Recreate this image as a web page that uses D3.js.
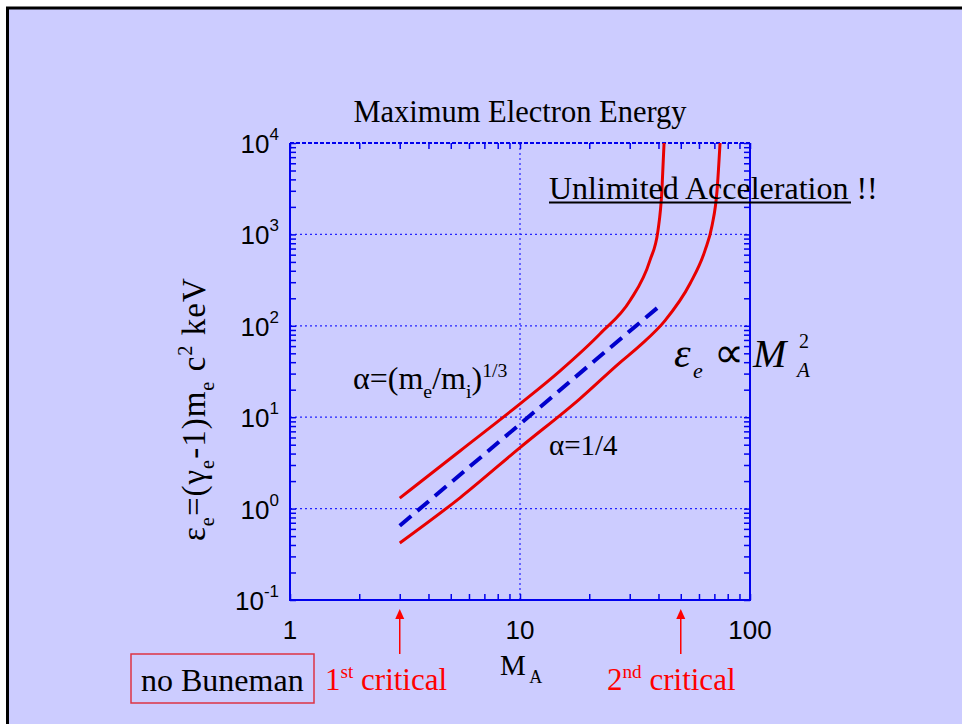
<!DOCTYPE html>
<html><head><meta charset="utf-8">
<script src="https://cdn.jsdelivr.net/npm/d3@7"></script>
<style>
html,body{margin:0;padding:0;background:#fff;}
svg{display:block;}
</style></head>
<body>
<script>
// ---- data ----
const machUpper = [3, 5.5, 10, 14.9, 22.3, 30.1, 36.7, 39.8, 41.4, 42.3];
const epsUpper  = [1.3, 4.3, 14, 32, 82, 189, 517, 1100, 3020, 10000];
const machLower = [3, 5.5, 10, 18.2, 27.2, 33.2, 42.7, 54.9, 63.7, 68.4, 71.9, 74.1];
const epsLower  = [0.42, 1.32, 4.65, 15.9, 39.6, 60.7, 114, 290, 665, 1250, 3020, 10000];
const machDash  = [3, 10, 20, 40.6];
const epsDash   = [0.65, 8.4, 37, 166];
const xTickValues = [1, 10, 100];
const yTickExponents = [-1, 0, 1, 2, 3, 4];
const criticalMach = [3, 50];
const criticalLabels = [["1", "st", " critical"], ["2", "nd", " critical"]];

const W = 962, H = 724;
const svg = d3.select("body").append("svg").attr("width", W).attr("height", H);
const serif = "Liberation Serif";
const sans = "Liberation Sans";

// slide background
svg.append("rect").attr("x", 7.5).attr("y", 8).attr("width", W + 20).attr("height", H + 20)
  .attr("fill", "#ccccff").attr("stroke", "#000").attr("stroke-width", 3);

const L = 290, R = 750, T = 143, B = 600;
const x = d3.scaleLog().domain([1, 100]).range([L, R]);
const y = d3.scaleLog().domain([0.1, 10000]).range([B, T]);

const blue = "#0000ee";
// grid
const grid = svg.append("g").attr("stroke", "#2222ff").attr("stroke-width", 1.2).attr("stroke-dasharray", "2,3");
yTickExponents.slice(1, -1).forEach(e => {
  grid.append("line").attr("x1", L).attr("x2", R).attr("y1", y(Math.pow(10, e))).attr("y2", y(Math.pow(10, e)));
});
xTickValues.slice(1, -1).forEach(v => {
  grid.append("line").attr("x1", x(v)).attr("x2", x(v)).attr("y1", T).attr("y2", B);
});

// axes with inward ticks
function styleAxis(g) {
  g.selectAll("text").remove();
  g.select(".domain").remove();
  g.selectAll("line").attr("stroke", blue).attr("stroke-width", 1.5);
}
const yt = y.ticks(), xt = x.ticks();
svg.append("g").attr("transform", `translate(${L},0)`).call(d3.axisLeft(y).tickValues(yt).tickSize(-6)).call(styleAxis);
svg.append("g").attr("transform", `translate(${R},0)`).call(d3.axisRight(y).tickValues(yt).tickSize(-6)).call(styleAxis);
svg.append("g").attr("transform", `translate(0,${B})`).call(d3.axisBottom(x).tickValues(xt).tickSize(-6)).call(styleAxis);
svg.append("g").attr("transform", `translate(0,${T})`).call(d3.axisTop(x).tickValues(xt).tickSize(-6)).call(styleAxis);

// frame
svg.append("path").attr("d", `M${L},${T}V${B}H${R}V${T}`).attr("fill", "none").attr("stroke", blue).attr("stroke-width", 2);
svg.append("line").attr("x1", L).attr("x2", R).attr("y1", T).attr("y2", T)
  .attr("stroke", blue).attr("stroke-width", 2).attr("stroke-dasharray", "4,2");

// tick labels
yTickExponents.forEach(e => {
  const t = svg.append("text").attr("x", L - 11).attr("y", y(Math.pow(10, e)) + 10)
    .attr("text-anchor", "end").style("font-family", sans).attr("font-size", 26).attr("fill", "#000");
  t.append("tspan").text("10");
  t.append("tspan").attr("dy", -13).attr("font-size", 17).text(String(e));
});
xTickValues.forEach(v => {
  svg.append("text").attr("x", x(v)).attr("y", 639).attr("text-anchor", "middle")
    .style("font-family", sans).attr("font-size", 26).attr("fill", "#000").text(v);
});

// curves
svg.append("clipPath").attr("id", "clip").append("rect").attr("x", L).attr("y", T).attr("width", R - L).attr("height", B - T);
const plot = svg.append("g").attr("clip-path", "url(#clip)");
const line = d3.line().x(d => x(d[0])).y(d => y(d[1])).curve(d3.curveMonotoneX);
plot.append("path").attr("d", line(d3.zip(machUpper, epsUpper))).attr("fill", "none").attr("stroke", "#e80000").attr("stroke-width", 3);
plot.append("path").attr("d", line(d3.zip(machLower, epsLower))).attr("fill", "none").attr("stroke", "#e80000").attr("stroke-width", 3);
plot.append("path").attr("d", d3.line().x(d => x(d[0])).y(d => y(d[1]))(d3.zip(machDash, epsDash)))
  .attr("fill", "none").attr("stroke", "#0000cc").attr("stroke-width", 4).attr("stroke-dasharray", "15,8");

// title
svg.append("text").attr("x", 520).attr("y", 122).attr("text-anchor", "middle")
  .style("font-family", serif).attr("font-size", 30.5).attr("fill", "#000").text("Maximum Electron Energy");

// rich text helper: parts [text, kind] kind: n, sub, sup
function rich(g, xPos, yPos, size, parts, opts = {}) {
  const t = g.append("text").attr("x", xPos).attr("y", yPos).style("font-family", serif)
    .attr("font-size", size).attr("fill", opts.fill || "#000");
  if (opts.anchor) t.attr("text-anchor", opts.anchor);
  if (opts.italic) t.attr("font-style", "italic");
  if (opts.spacing) t.attr("letter-spacing", opts.spacing);
  let cur = 0;
  parts.forEach(([s, k]) => {
    let target = 0, fs = size;
    if (k === "sub") { target = size * 0.28; fs = size * 0.62; }
    if (k === "sup") { target = -size * 0.38; fs = size * 0.62; }
    t.append("tspan").attr("dy", target - cur).attr("font-size", fs).text(s);
    cur = target;
  });
  return t;
}

// y axis label
const yl = svg.append("g").attr("transform", "translate(205,541) rotate(-90)");
rich(yl, 0, 0, 33, [["ε", "n"], ["e", "sub"], ["=(γ", "n"], ["e", "sub"], ["-1)m", "n"], ["e", "sub"], ["\u00A0c", "n"], ["2", "sup"], ["\u00A0keV", "n"]], { spacing: 1 });

// x axis label
rich(svg, 500, 675, 29, [["M", "n"], [" A", "sub"]]);

// Unlimited acceleration
const ua = svg.append("text").attr("x", 549).attr("y", 199).style("font-family", serif).attr("font-size", 32).attr("fill", "#000");
ua.append("tspan").text("Unlimited Acceleration");
ua.append("tspan").text(" !!");
svg.append("line").attr("x1", 549).attr("x2", 851).attr("y1", 202.5).attr("y2", 202.5).attr("stroke", "#000").attr("stroke-width", 2);

// alpha labels
rich(svg, 353, 389, 32, [["α=(m", "n"], ["e", "sub"], ["/m", "n"], ["i", "sub"], [")", "n"], ["1/3", "sup"]]);
rich(svg, 549, 455, 29, [["α=1/4", "n"]]);

// epsilon ∝ M^2
const eq = svg.append("g").style("font-family", serif).attr("fill", "#000");
eq.append("text").attr("x", 674).attr("y", 367).attr("font-size", 42).attr("font-style", "italic").text("ε");
eq.append("text").attr("x", 693).attr("y", 378).attr("font-size", 22).attr("font-style", "italic").text("e");
eq.append("text").attr("x", 714).attr("y", 367).attr("font-size", 42).text("∝");
eq.append("text").attr("x", 753).attr("y", 367).attr("font-size", 40).attr("font-style", "italic").text("M");
eq.append("text").attr("x", 799).attr("y", 348).attr("font-size", 20).text("2");
eq.append("text").attr("x", 797).attr("y", 377).attr("font-size", 21).attr("font-style", "italic").text("A");

// critical arrows and labels
const red = "#ff0000";
criticalMach.forEach((m, i) => {
  const cx = x(m);
  svg.append("line").attr("x1", cx).attr("x2", cx).attr("y1", 654).attr("y2", 616).attr("stroke", red).attr("stroke-width", 1.5);
  svg.append("path").attr("d", `M${cx},609L${cx - 4.5},619L${cx + 4.5},619Z`).attr("fill", red);
  const p = criticalLabels[i];
  rich(svg, i === 0 ? 325 : 607, 690, 31, [[p[0], "n"], [p[1], "sup"], [p[2], "n"]], { fill: red });
});

// no Buneman box
svg.append("rect").attr("x", 131).attr("y", 654).attr("width", 183).attr("height", 49)
  .attr("fill", "none").attr("stroke", "#dd3344").attr("stroke-width", 1.5);
svg.append("text").attr("x", 141).attr("y", 691).style("font-family", serif).attr("font-size", 32).attr("fill", "#000").text("no Buneman");
</script>
</body></html>
